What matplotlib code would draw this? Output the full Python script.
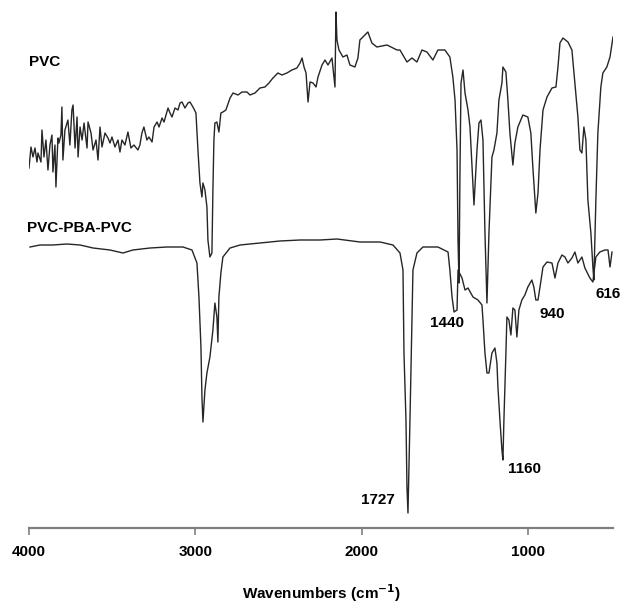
import matplotlib.pyplot as plt

plt.rcParams['font.family'] = ['Liberation Sans', 'DejaVu Sans']

# FTIR spectra, transmittance in arbitrary units (curves offset, no y scale)
pvc_wn = [4000, 3988, 3976, 3964, 3952, 3946, 3928, 3922, 3910, 3898, 3886, 3874,
          3862, 3856, 3844, 3838, 3826, 3820, 3808, 3802, 3796, 3784, 3766, 3754,
          3742, 3735, 3723, 3711, 3705, 3693, 3681, 3669, 3651, 3645, 3627, 3615,
          3597, 3585, 3573, 3561, 3543, 3525, 3513, 3501, 3483, 3465, 3453, 3441,
          3423, 3405, 3387, 3369, 3345, 3333, 3321, 3309, 3291, 3279, 3260, 3248,
          3230, 3218, 3200, 3188, 3164, 3152, 3140, 3122, 3104, 3092, 3080, 3062,
          3044, 3032, 3014, 2996, 2984, 2972, 2960, 2954, 2942, 2930, 2924, 2912,
          2900, 2894, 2888, 2882, 2870, 2858, 2846, 2834, 2816, 2791, 2773, 2743,
          2719, 2689, 2671, 2641, 2611, 2581, 2557, 2533, 2503, 2479, 2449, 2419,
          2389, 2370, 2358, 2346, 2334, 2322, 2310, 2292, 2274, 2262, 2238, 2220,
          2202, 2178, 2166, 2160, 2154, 2148, 2136, 2112, 2088, 2070, 2040, 2022,
          2010, 1992, 1962, 1938, 1908, 1847, 1787, 1769, 1727, 1697, 1667, 1637,
          1607, 1571, 1541, 1499, 1469, 1451, 1438, 1426, 1420, 1414, 1408, 1402,
          1390, 1378, 1360, 1348, 1330, 1324, 1306, 1294, 1282, 1270, 1258, 1246,
          1234, 1216, 1204, 1186, 1174, 1156, 1150, 1132, 1120, 1108, 1090, 1078,
          1060, 1030, 1000, 982, 970, 952, 939, 927, 909, 885, 855, 831,
          819, 807, 789, 759, 735, 717, 699, 687, 675, 663, 651, 639,
          621, 609, 603, 591, 579, 561, 549, 525, 506, 488]
pvc_t = [363, 384, 374, 383, 369, 378, 369, 401, 374, 391, 361, 386,
         396, 359, 386, 344, 393, 388, 396, 424, 371, 401, 411, 386,
         421, 426, 383, 414, 374, 404, 391, 408, 383, 409, 398, 381,
         391, 371, 404, 384, 398, 393, 388, 394, 384, 391, 379, 391,
         386, 399, 383, 386, 381, 386, 398, 404, 391, 394, 389, 404,
         409, 404, 413, 409, 423, 418, 414, 423, 421, 428, 429, 423,
         428, 429, 424, 418, 381, 348, 334, 348, 341, 324, 291, 274,
         278, 341, 391, 408, 409, 399, 418, 419, 421, 433, 438, 436,
         439, 439, 436, 438, 443, 444, 448, 453, 458, 456, 458, 461,
         463, 468, 473, 464, 458, 429, 449, 448, 444, 454, 466, 471,
         466, 473, 454, 444, 519, 491, 481, 474, 476, 466, 464, 473,
         491, 494, 499, 488, 484, 486, 481, 481, 469, 473, 469, 481,
         479, 471, 481, 481, 474, 454, 431, 381, 291, 248, 364, 448,
         461, 438, 421, 404, 344, 326, 381, 408, 411, 391, 298, 228,
         298, 374, 381, 398, 431, 448, 464, 459, 431, 398, 366, 388,
         404, 416, 414, 398, 364, 318, 338, 381, 421, 434, 443, 444,
         464, 488, 493, 489, 481, 448, 414, 381, 378, 404, 391, 331,
         298, 264, 251, 331, 398, 444, 458, 464, 474, 494]

copo_wn = [3994, 3934, 3856, 3772, 3693, 3615, 3513, 3435, 3375, 3272, 3170, 3074,
           3020, 2990, 2978, 2966, 2960, 2954, 2942, 2930, 2912, 2894, 2882, 2870,
           2864, 2858, 2846, 2834, 2791, 2731, 2611, 2491, 2370, 2250, 2148, 2010,
           1889, 1811, 1769, 1751, 1745, 1733, 1727, 1721, 1709, 1697, 1691, 1667,
           1631, 1541, 1480, 1469, 1456, 1444, 1426, 1420, 1396, 1378, 1360, 1330,
           1300, 1276, 1270, 1258, 1246, 1234, 1216, 1198, 1186, 1180, 1168, 1156,
           1150, 1144, 1132, 1126, 1114, 1102, 1090, 1078, 1066, 1054, 1036, 1018,
           1000, 976, 964, 952, 939, 927, 909, 885, 855, 837, 819, 795,
           777, 759, 735, 717, 699, 675, 657, 627, 609, 591, 567, 537,
           518, 506, 494]
copo_t = [284, 286, 286, 287, 286, 283, 281, 278, 281, 283, 284, 284,
          281, 268, 234, 184, 134, 109, 141, 158, 174, 201, 228, 214,
          189, 234, 258, 274, 283, 286, 288, 290, 291, 291, 292, 289,
          289, 286, 278, 261, 178, 111, 44, 18, 111, 211, 261, 278,
          284, 284, 279, 261, 234, 219, 221, 261, 253, 241, 243, 234,
          231, 226, 211, 178, 158, 158, 178, 183, 168, 144, 111, 81,
          71, 111, 178, 214, 211, 196, 223, 221, 194, 221, 231, 236,
          244, 251, 244, 231, 231, 244, 264, 269, 268, 253, 268, 276,
          274, 268, 273, 279, 268, 274, 263, 253, 249, 274, 279, 281,
          281, 264, 279]

ticks = [4000, 3000, 2000, 1000]

fig = plt.figure(figsize=(6.2, 6.03), dpi=100)
ax = fig.add_axes([29 / 620, 75 / 603, 584 / 620, 528 / 603])

ax.plot(pvc_wn, pvc_t, color='#262626', lw=1.0)
ax.plot(copo_wn, copo_t, color='#262626', lw=1.0)

ax.set_xlim(4000, 488)
ax.set_ylim(3, 531)

for s in ['left', 'right', 'top']:
    ax.spines[s].set_visible(False)
ax.spines['bottom'].set_color('#808080')
ax.spines['bottom'].set_linewidth(1.6)
ax.set_yticks([])
ax.set_xticks(ticks)
ax.set_xticklabels([str(t) for t in ticks], fontsize=11, fontweight='bold')
ax.tick_params(axis='x', direction='out', length=5, width=1.2,
               color='#808080', pad=7)

lab = dict(fontsize=11, fontweight='bold', ha='center', va='center')
ax.text(3904, 469, 'PVC', **lab)
ax.text(3699, 303, 'PVC-PBA-PVC', **lab)
ax.text(1487, 208, '1440', **lab)
ax.text(855, 217, '940', **lab)
ax.text(518, 237, '616', **lab)
ax.text(1018, 62, '1160', **lab)
ax.text(1901, 31, '1727', **lab)

fig.text(321 / 620, 1 - 599 / 603, r'Wavenumbers (cm$^{\mathbf{-1}}$)',
         fontsize=11, fontweight='bold', ha='center', va='baseline')

fig.savefig('out.png', dpi=100)
